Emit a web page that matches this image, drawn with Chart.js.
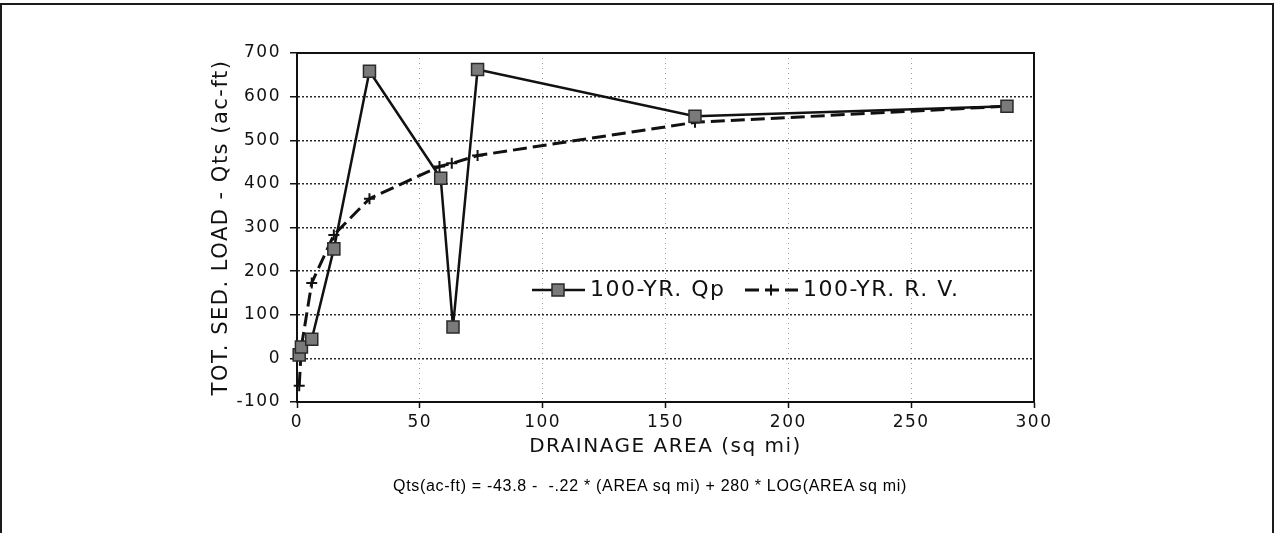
<!DOCTYPE html>
<html>
<head>
<meta charset="utf-8">
<title>Total sediment load vs drainage area</title>
<script src="https://cdn.jsdelivr.net/npm/chart.js@4/dist/chart.umd.min.js"></script>
<style>
  html, body { margin: 0; padding: 0; background: #fff; }
  #page { position: relative; width: 1276px; height: 533px; overflow: hidden; background: #fff; }
  #frame { position: absolute; left: 0; top: 3px; width: 1270px; height: 560px; border: 2px solid #1a1a1a; border-bottom: none; }
  #chart { position: absolute; left: 0; top: 0; }
  #formula { position: absolute; top: 477px; left: 393px; font: 16px "Liberation Sans", Arial, sans-serif; letter-spacing: 0.7px; color: #000; white-space: pre; }
</style>
</head>
<body>
<div id="page">
  <div id="frame"></div>
  <canvas id="chart" width="1276" height="533"></canvas>
  <div id="formula">Qts(ac-ft) = -43.8 -  -.22 * (AREA sq mi) + 280 * LOG(AREA sq mi)</div>
</div>
<script>
"use strict";

// 100-yr peak flow relation (squares, solid line)
const AREA_QP = [0.9, 1.8, 6, 15, 29.5, 58.5, 63.5, 73.5, 162, 289];
const QTS_QP = [8, 26, 44, 251, 658, 413, 72, 662, 555, 578];

// 100-yr runoff volume relation (plus marks, dashed line)
const AREA_RV = [0.9, 1.8, 6, 15, 29.5, 58, 63, 73.5, 162, 289];
const QTS_RV = [-63, 27, 173, 283, 366, 440, 447, 465, 541, 578];

const SERIES_NAMES = ["100-YR. Qp", "100-YR. R. V."];
const X_TICKS = [0, 50, 100, 150, 200, 250, 300];
const Y_TICKS = [-100, 0, 100, 200, 300, 400, 500, 600, 700];
const X_TITLE = "DRAINAGE AREA (sq mi)";
const Y_TITLE = "TOT. SED. LOAD - Qts (ac-ft)";

const INK = "#111";
const FONT = "'DejaVu Sans', sans-serif";

Chart.defaults.font.family = FONT;
Chart.defaults.color = INK;

const toPoints = (xs, ys) => xs.map((x, i) => ({ x, y: ys[i] }));

// solid box round the plot area; also widens the lettering a little
const plotFrame = {
  id: "plotFrame",
  beforeDraw(chart) {
    chart.ctx.letterSpacing = "1.5px";
  },
  beforeDatasetsDraw(chart) {
    const { ctx, chartArea: a } = chart;
    ctx.save();
    ctx.strokeStyle = INK;
    ctx.lineWidth = 2;
    ctx.strokeRect(a.left, a.top, a.right - a.left, a.bottom - a.top);
    ctx.restore();
  },
};

// legend sits inside the plot, one row
const insideLegend = {
  id: "insideLegend",
  afterDatasetsDraw(chart) {
    const { ctx } = chart;
    const y = 290;
    const slots = [532, 745];
    chart.data.datasets.forEach((ds, i) => {
      const x0 = slots[i];
      ctx.save();
      ctx.strokeStyle = ds.borderColor;
      ctx.lineWidth = ds.borderWidth;
      ctx.setLineDash(ds.borderDash || []);
      ctx.beginPath();
      ctx.moveTo(x0, y);
      ctx.lineTo(x0 + 53, y);
      ctx.stroke();
      ctx.setLineDash([]);
      ctx.fillStyle = ds.pointBackgroundColor;
      ctx.strokeStyle = ds.pointBorderColor;
      ctx.lineWidth = ds.pointBorderWidth;
      Chart.helpers.drawPoint(ctx, {
        pointStyle: ds.pointStyle, radius: ds.pointRadius, rotation: 0, borderWidth: ds.pointBorderWidth,
      }, x0 + 26, y);
      ctx.fillStyle = INK;
      ctx.font = "22px " + FONT;
      ctx.textAlign = "left";
      ctx.textBaseline = "middle";
      ctx.fillText(ds.label, x0 + 58, y);
      ctx.restore();
    });
  },
};

new Chart(document.getElementById("chart"), {
  type: "scatter",
  data: {
    datasets: [
      {
        label: SERIES_NAMES[0],
        data: toPoints(AREA_QP, QTS_QP),
        showLine: true,
        clip: false,
        borderColor: INK,
        borderWidth: 2.5,
        pointStyle: "rect",
        pointRadius: 8.5,
        pointBackgroundColor: "#7a7a7a",
        pointBorderColor: "#2a2a2a",
        pointBorderWidth: 1.5,
      },
      {
        label: SERIES_NAMES[1],
        data: toPoints(AREA_RV, QTS_RV),
        showLine: true,
        clip: false,
        borderColor: INK,
        borderWidth: 3,
        borderDash: [14, 6],
        pointStyle: "cross",
        pointRadius: 5.5,
        pointBackgroundColor: INK,
        pointBorderColor: INK,
        pointBorderWidth: 2,
      },
    ],
  },
  options: {
    responsive: false,
    animation: false,
    events: [],
    layout: { padding: { left: 200, top: 53, right: 242, bottom: 0 } },
    plugins: { legend: { display: false }, tooltip: { enabled: false } },
    scales: {
      x: {
        type: "linear",
        min: 0,
        max: 300,
        afterBuildTicks: (s) => { s.ticks = X_TICKS.map((v) => ({ value: v })); },
        afterFit: (s) => { s.height = 131; },
        grid: { color: "#9a9a9a", lineWidth: 1, tickLength: 6, tickColor: INK, tickWidth: 1.5 },
        border: { color: INK, width: 2, dash: [1, 4] },
        ticks: { font: { size: 17 }, color: INK, padding: 4, maxRotation: 0 },
        title: { display: true, text: X_TITLE, color: INK, font: { size: 20 }, padding: { top: 0, bottom: 74 } },
      },
      y: {
        type: "linear",
        min: -100,
        max: 700,
        afterBuildTicks: (s) => { s.ticks = Y_TICKS.map((v) => ({ value: v })); },
        afterFit: (s) => { s.width = 97; },
        grid: { color: "#2a2a2a", lineWidth: 1.5, tickLength: 7, tickColor: INK, tickWidth: 1.5 },
        border: { color: INK, width: 2, dash: [2, 2] },
        ticks: { font: { size: 17 }, color: INK, padding: 9 },
        title: { display: true, text: Y_TITLE, color: INK, font: { size: 21 }, padding: { top: 9, bottom: 0 } },
      },
    },
  },
  plugins: [plotFrame, insideLegend],
});
</script>
</body>
</html>
